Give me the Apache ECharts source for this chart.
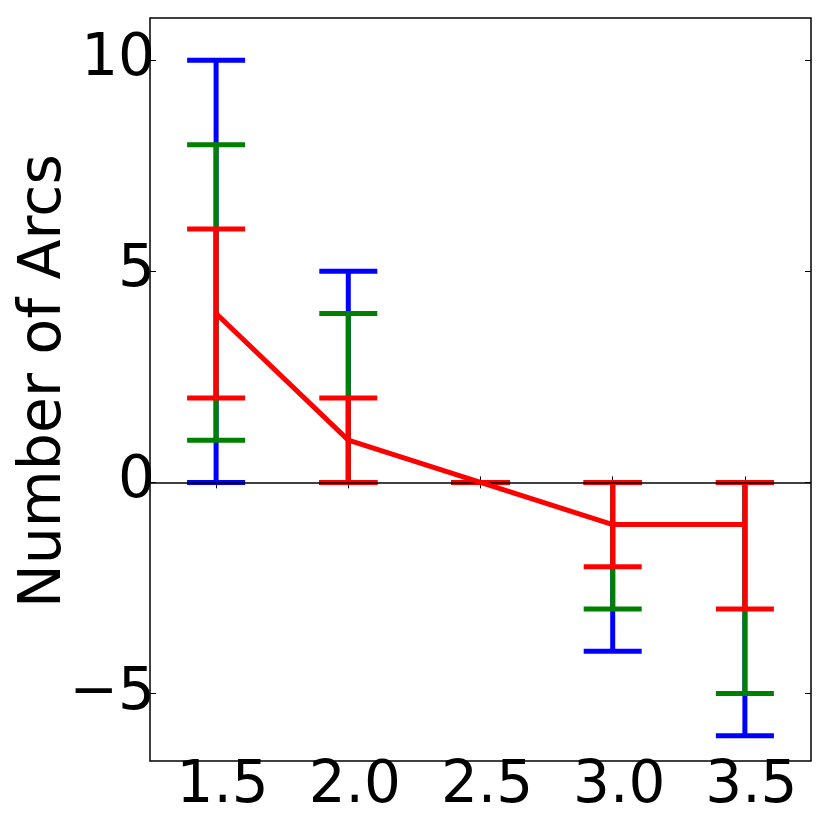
<!DOCTYPE html>
<html>
<head>
<meta charset="utf-8">
<script src="https://cdn.jsdelivr.net/npm/echarts@6/dist/echarts.min.js"></script>
<style>html,body{margin:0;padding:0;background:#fff}#c{width:830px;height:830px}</style>
</head>
<body>
<div id="c"></div>
<script>
const xValues = [1.5, 2.0, 2.5, 3.0, 3.5];
const lineValues = [4, 1, 0, -1, -1];
const blueLow = [0, 0, 0, -4, -6];
const blueHigh = [10, 5, 0, 0, 0];
const greenLow = [1, 0, 0, -3, -5];
const greenHigh = [8, 4, 0, 0, 0];
const redLow = [2, 0, 0, -2, -3];
const redHigh = [6, 2, 0, 0, 0];
const xTicks = [1.5, 2.0, 2.5, 3.0, 3.5];
const yTicks = [-5, 0, 5, 10];
const yLabel = 'Number of Arcs';

const FONT = 'DejaVu Sans';
const FS = 58;
const NAME_FS = 58.5;

function errSeries(lo, hi, color, z) {
  return {
    type: 'custom', z: z,
    data: xValues.map((x, i) => [x, lo[i], hi[i]]),
    encode: { x: 0, y: [1, 2] },
    renderItem: function (params, api) {
      const x = api.value(0), l = api.value(1), h = api.value(2);
      const pL = api.coord([x, l]), pH = api.coord([x, h]);
      const hw = 29;
      const st = { stroke: color, lineWidth: 5, lineCap: 'butt' };
      return {
        type: 'group', children: [
          { type: 'line', shape: { x1: pL[0], y1: pL[1], x2: pH[0], y2: pH[1] }, style: st },
          { type: 'line', shape: { x1: pL[0] - hw, y1: pL[1], x2: pL[0] + hw, y2: pL[1] }, style: st },
          { type: 'line', shape: { x1: pH[0] - hw, y1: pH[1], x2: pH[0] + hw, y2: pH[1] }, style: st }
        ]
      };
    }
  };
}

const tickStyle = { show: true, inside: true, length: 6, lineStyle: { color: '#000', width: 1 } };

const chart = echarts.init(document.getElementById('c'), null, { renderer: 'canvas' });
chart.setOption({
  animation: false,
  backgroundColor: '#fff',
  grid: { left: 150, right: 19, top: 18, bottom: 69, outerBoundsMode: 'none', containLabel: false,
    show: true, borderColor: '#000', borderWidth: 1.5, backgroundColor: 'transparent' },
  graphic: [{
    type: 'text', x: 45, y: 381, rotation: Math.PI / 2, silent: true,
    style: { text: yLabel, fontFamily: FONT, fontSize: NAME_FS, fill: '#000', align: 'center', verticalAlign: 'middle' }
  }],
  xAxis: [
    {
      type: 'value', min: 1.25, max: 3.75, position: 'bottom',
      splitLine: { show: false }, axisLine: { show: false },
      axisTick: Object.assign({ customValues: xTicks }, tickStyle),
      axisLabel: { customValues: xTicks, formatter: v => v.toFixed(1), fontFamily: FONT, fontSize: FS, color: '#000', margin: -3, padding: [0, 0, 0, 13] }
    },
    {
      type: 'value', min: 1.25, max: 3.75, position: 'top',
      splitLine: { show: false }, axisLine: { show: false },
      axisTick: Object.assign({ customValues: xTicks }, tickStyle),
      axisLabel: { show: false }
    }
  ],
  yAxis: [
    {
      type: 'value', min: -6.6, max: 11, position: 'left',
      splitLine: { show: false }, axisLine: { show: false },
      axisTick: Object.assign({ customValues: yTicks }, tickStyle),
      axisLabel: { customValues: yTicks, formatter: v => String(v).replace('-', '\u2212'), fontFamily: FONT, fontSize: FS, color: '#000', margin: -5 }
    },
    {
      type: 'value', min: -6.6, max: 11, position: 'right',
      splitLine: { show: false }, axisLine: { show: false },
      axisTick: Object.assign({ customValues: yTicks }, tickStyle),
      axisLabel: { show: false }
    }
  ],
  series: [
    {
      type: 'line', z: 1, data: [], symbol: 'none',
      markLine: { silent: true, symbol: 'none', label: { show: false }, animation: false,
        lineStyle: { color: '#000', width: 1.5, type: 'solid' }, data: [{ yAxis: 0 }] }
    },
    errSeries(blueLow, blueHigh, '#0000ff', 2),
    errSeries(greenLow, greenHigh, '#008000', 3),
    errSeries(redLow, redHigh, '#ff0000', 4),
    {
      type: 'line', z: 5, data: xValues.map((x, i) => [x, lineValues[i]]),
      symbol: 'none', lineStyle: { color: '#ff0000', width: 5 }
    }
  ]
});
</script>
</body>
</html>
